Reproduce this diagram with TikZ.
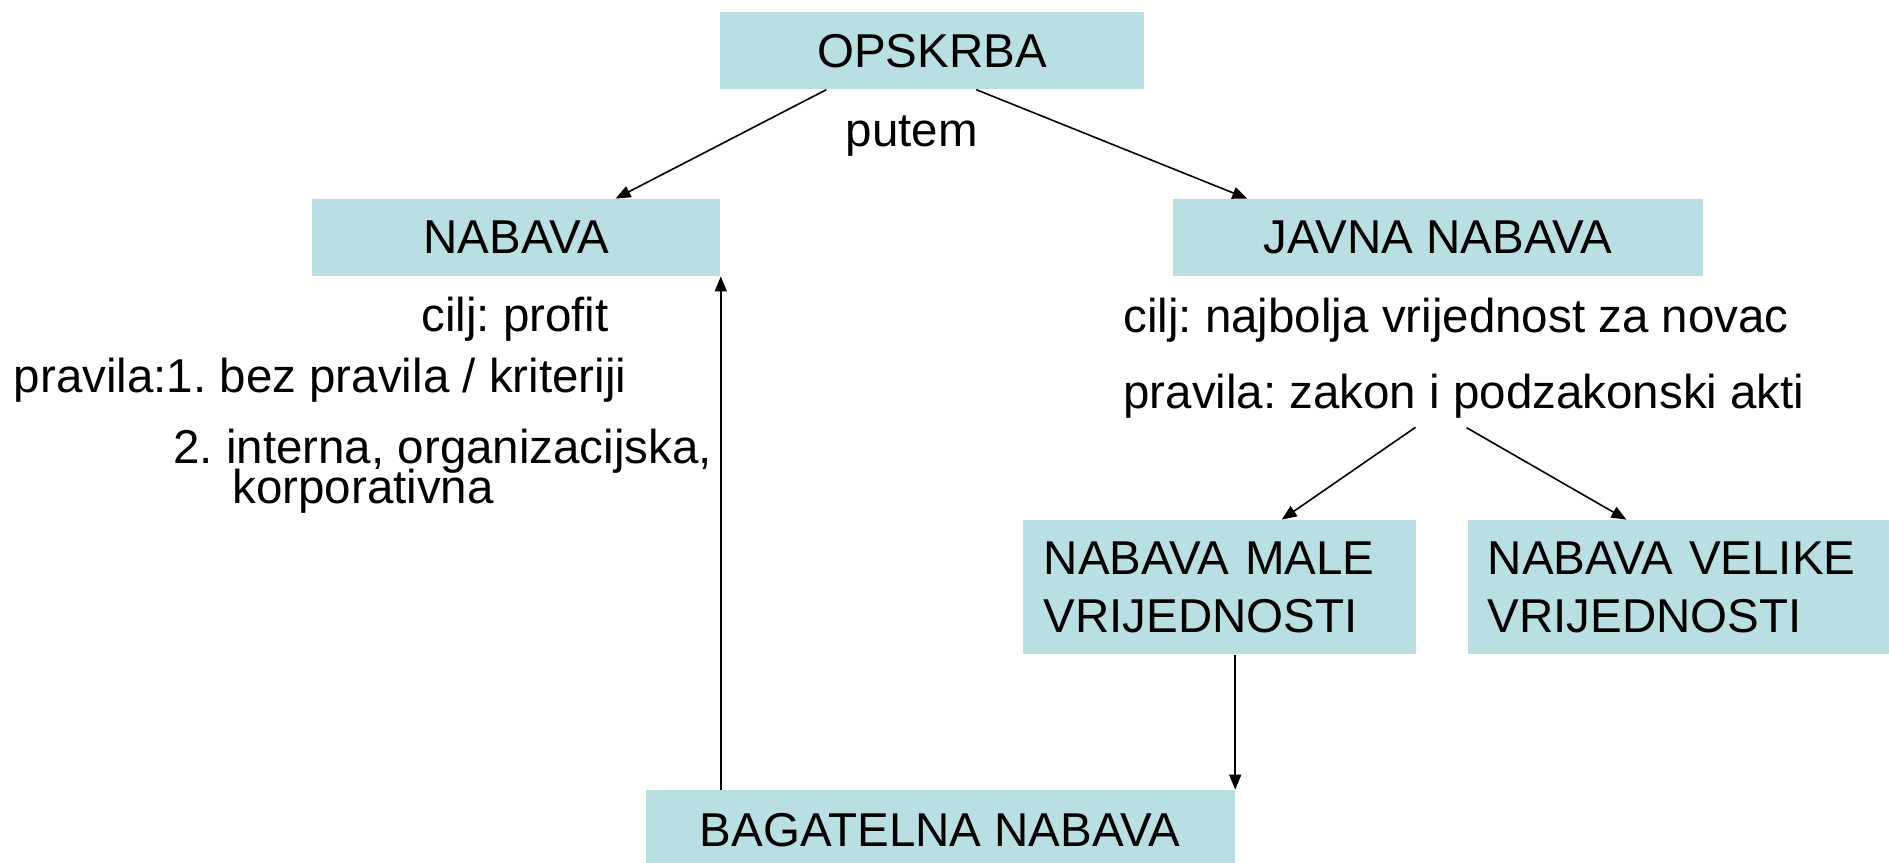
\documentclass[tikz,border=0pt]{standalone}
\usepackage{fontspec}
\setmainfont{Liberation Sans}
\usetikzlibrary{arrows.meta,calc}
\definecolor{boxfill}{RGB}{186,223,227}
\frenchspacing
\begin{document}
\begin{tikzpicture}[x=0.5pt,y=-0.5pt,
  box/.style={fill=boxfill, draw=none, inner sep=0pt, minimum height=38.5pt,
    font=\fontsize{23.75}{29}\selectfont},
  tallbox/.style={box, minimum height=67.15pt, align=left, inner xsep=10.5pt},
  lbl/.style={inner sep=0pt, anchor=base west, font=\fontsize{23.75}{29}\selectfont},
  arr/.style={-{Triangle[length=7.5pt,width=6pt]}, line width=0.8pt}]
\useasboundingbox (0,0) rectangle (1889,862);

% boxes
\node[box, minimum width=211.65pt] (ops) at (932.1,50.8) {OPSKRBA};
\node[box, minimum width=204.1pt] (nab) at (516.3,237.5) {NABAVA};
\node[box, minimum width=265.05pt] (jav) at (1438,237.5) {JAVNA NABAVA};
\node[tallbox, text width=175.4pt] (male) at (1219.1,587.2) {NABAVA MALE\\VRIJEDNOSTI};
\node[tallbox, inner xsep=10pt, text width=190.65pt] (vel) at (1678.35,587.2) {NABAVA VELIKE\\VRIJEDNOSTI};
\node[box, minimum width=294.65pt, minimum height=40pt] (bag) at (940.15,830) {BAGATELNA NABAVA};

% labels
\node[lbl] (putem) at (845.5,146.7) {putem};
\node[lbl] (cilj1) at (421,331.7) {cilj: profit};
\node[lbl] (prav1) at (13.5,392.7) {pravila:1. bez pravila / kriteriji};
\node[lbl] (prav1b) at (173,463) {2. interna, organizacijska,};
\node[lbl] (prav1c) at (232,503.5) {korporativna};
\node[lbl] (cilj2) at (1123,332.7) {cilj: najbolja vrijednost za novac};
\node[lbl] (prav2) at (1123,408) {pravila: zakon i podzakonski akti};

% connector end points
\coordinate (p2a) at (1415.5,427.3);
\coordinate (p2b) at (1466.6,427.7);

% connectors
\draw[arr] ($(ops.south)+(-105.8,0)$) -- ($(nab.north)+(99.3,0)$);
\draw[arr] ($(ops.south)+(44.2,0)$) -- ($(jav.north)+(-190.7,0)$);
\draw[arr] (p2a) -- ($(male.north)+(62.6,0)$);
\draw[arr] (p2b) -- ($(vel.north)+(-51.95,0)$);
\draw[arr] (male.south -| bag.north east) -- (bag.north east);
\draw[arr] (nab.south east |- bag.north) -- (nab.south east);
\end{tikzpicture}
\end{document}
